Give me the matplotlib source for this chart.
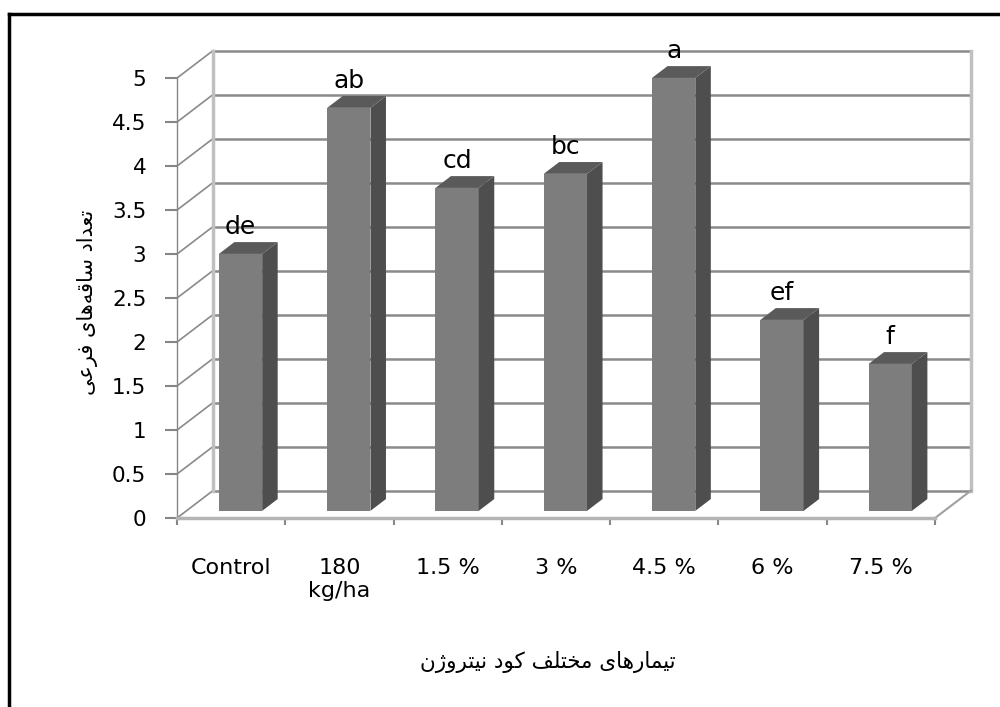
import numpy as np
import matplotlib
matplotlib.use('Agg')
import matplotlib.pyplot as plt
from matplotlib.patches import Polygon
from matplotlib.lines import Line2D
from matplotlib import font_manager, ft2font

plt.rcParams['font.family'] = ['DejaVu Sans']

categories = ['Control', '180\nkg/ha', '1.5 %', '3 %', '4.5 %', '6 %', '7.5 %']
values = [2.92, 4.58, 3.67, 3.83, 4.92, 2.17, 1.67]
letters = ['de', 'ab', 'cd', 'bc', 'a', 'ef', 'f']
yticks = [0, 0.5, 1, 1.5, 2, 2.5, 3, 3.5, 4, 4.5, 5]
ytick_labels = ['0', '0.5', '1', '1.5', '2', '2.5', '3', '3.5', '4', '4.5', '5']
ylabel_fa = 'تعداد ساقه\u200cهای فرعی'
xlabel_fa = 'تیمارهای مختلف کود نیتروژن'

# ---- minimal Persian shaping (presentation forms, visual order) ----
FORMS = {
    'ا': ('\uFE8D', '\uFE8E', None, None),
    'د': ('\uFEA9', '\uFEAA', None, None),
    'ر': ('\uFEAD', '\uFEAE', None, None),
    'و': ('\uFEED', '\uFEEE', None, None),
    'ژ': ('\uFB8A', '\uFB8B', None, None),
    'ت': ('\uFE95', '\uFE96', '\uFE97', '\uFE98'),
    'ع': ('\uFEC9', '\uFECA', '\uFECB', '\uFECC'),
    'س': ('\uFEB1', '\uFEB2', '\uFEB3', '\uFEB4'),
    'ق': ('\uFED5', '\uFED6', '\uFED7', '\uFED8'),
    'ه': ('\uFEE9', '\uFEEA', '\uFEEB', '\uFEEC'),
    'ی': ('\uFEEF', '\uFEF0', '\uFEF3', '\uFEF4'),
    'ف': ('\uFED1', '\uFED2', '\uFED3', '\uFED4'),
    'م': ('\uFEE1', '\uFEE2', '\uFEE3', '\uFEE4'),
    'خ': ('\uFEA5', '\uFEA6', '\uFEA7', '\uFEA8'),
    'ل': ('\uFEDD', '\uFEDE', '\uFEDF', '\uFEE0'),
    'ک': ('\uFB8E', '\uFB8F', '\uFB90', '\uFB91'),
    'ن': ('\uFEE5', '\uFEE6', '\uFEE7', '\uFEE8'),
}
try:
    _cmap = ft2font.FT2Font(font_manager.findfont('DejaVu Sans')).get_charmap()
except Exception:
    _cmap = None

KAF_FALLBACK = ('\uFED9', '\uFEDA', '\uFEDB', '\uFEDC')


def has(c):
    return _cmap is None or ord(c) in _cmap


def shape(s):
    chars = list(s)
    out = []
    for i, c in enumerate(chars):
        if c not in FORMS:
            if c != '\u200c':
                out.append(c)
            continue
        forms = FORMS[c]
        prev = chars[i - 1] if i > 0 else None
        nxt = chars[i + 1] if i + 1 < len(chars) else None
        jp = prev in FORMS and FORMS[prev][2] is not None
        jn = forms[2] is not None and nxt in FORMS
        if jp and jn:
            g = forms[3]
        elif jp:
            g = forms[1]
        elif jn:
            g = forms[2]
        else:
            g = forms[0]
        if not has(g) and c == 'ک':
            idx = forms.index(g)
            g = KAF_FALLBACK[idx]
        if not has(g):
            g = c
        out.append(g)
    return ''.join(reversed(out))


fig = plt.figure(figsize=(10, 7.07), dpi=100)
ax = fig.add_axes([0.177, 0.2673, 0.758, 0.6223])
ax.set_xlim(-0.5, 6.5)
ax.set_ylim(0, 5)

DX, DY = 0.333, 0.3125   # full depth offset in data units
F0, F1 = 0.26, 0.69      # bar depth range (fraction of depth)
W = 0.4
grid_c = '#8a8a8a'

# back wall gridlines
for v in yticks:
    ax.plot([-0.5 + DX, 6.5 + DX], [v + DY, v + DY], color=grid_c, lw=1.8,
            clip_on=False, zorder=1, solid_capstyle='butt')
    ax.plot([-0.5, -0.5 + DX], [v, v + DY], color=grid_c, lw=1.2,
            clip_on=False, zorder=1)
ax.plot([-0.5 + DX] * 2, [DY, 5 + DY], color='#c0c0c0', lw=2.5, clip_on=False, zorder=1)
ax.plot([6.5 + DX] * 2, [DY, 5 + DY], color='#c0c0c0', lw=2.5, clip_on=False, zorder=1)
ax.plot([6.5, 6.5 + DX], [0, DY], color='#a0a0a0', lw=1.5, clip_on=False, zorder=1)

# bars
xs = np.arange(len(categories))
ax.bar(xs + F0 * DX, values, width=W, bottom=F0 * DY, color='#7d7d7d',
       zorder=3, clip_on=False)
dd = (F1 - F0) * DX
for i, v in enumerate(values):
    xl = i + F0 * DX - W / 2
    xr = i + F0 * DX + W / 2
    side = Polygon([(xr, F0 * DY), (xr + dd, F1 * DY), (xr + dd, v + F1 * DY),
                    (xr, v + F0 * DY)], closed=True, facecolor='#4e4e4e',
                   edgecolor='none', zorder=3, clip_on=False)
    top = Polygon([(xl, v + F0 * DY), (xr, v + F0 * DY), (xr + dd, v + F1 * DY),
                   (xl + dd, v + F1 * DY)], closed=True, facecolor='#5a5a5a',
                  edgecolor='none', zorder=3, clip_on=False)
    ax.add_patch(side)
    ax.add_patch(top)
    ax.text(i + F0 * DX, v + F1 * DY + 0.09, letters[i], ha='center',
            va='baseline', fontsize=18, color='black', zorder=4)

# axes styling
for s in ['top', 'right']:
    ax.spines[s].set_visible(False)
ax.spines['left'].set_color('#868686')
ax.spines['left'].set_linewidth(1.0)
ax.spines['bottom'].set_color('#b4b4b4')
ax.spines['bottom'].set_linewidth(2.5)
ax.patch.set_visible(False)

ax.set_yticks(yticks, ytick_labels)
ax.tick_params(axis='y', length=8.6, width=1.5, color='#868686', pad=13.5,
               labelsize=15.5)
ax.set_xticks(xs, categories)
ax.set_xticks(np.arange(-0.5, 7, 1), minor=True)
ax.tick_params(axis='x', which='major', length=0, pad=29, labelsize=16)
ax.tick_params(axis='x', which='minor', length=5, width=1.5, color='#868686')

fig.text(0.088, 1 - 302 / 707, shape(ylabel_fa), rotation=90, ha='center',
         va='center', fontsize=15)
fig.text(0.548, 1 - 662 / 707, shape(xlabel_fa), ha='center', va='center',
         fontsize=15.5)

# outer frame
fig.add_artist(Line2D([0.0085, 0.0085], [0, 1 - 14 / 707], transform=fig.transFigure,
                      color='black', lw=2.5))
fig.add_artist(Line2D([0.0085, 1], [1 - 14 / 707, 1 - 14 / 707], transform=fig.transFigure,
                      color='black', lw=2.5))

fig.savefig('out.png', dpi=100)
